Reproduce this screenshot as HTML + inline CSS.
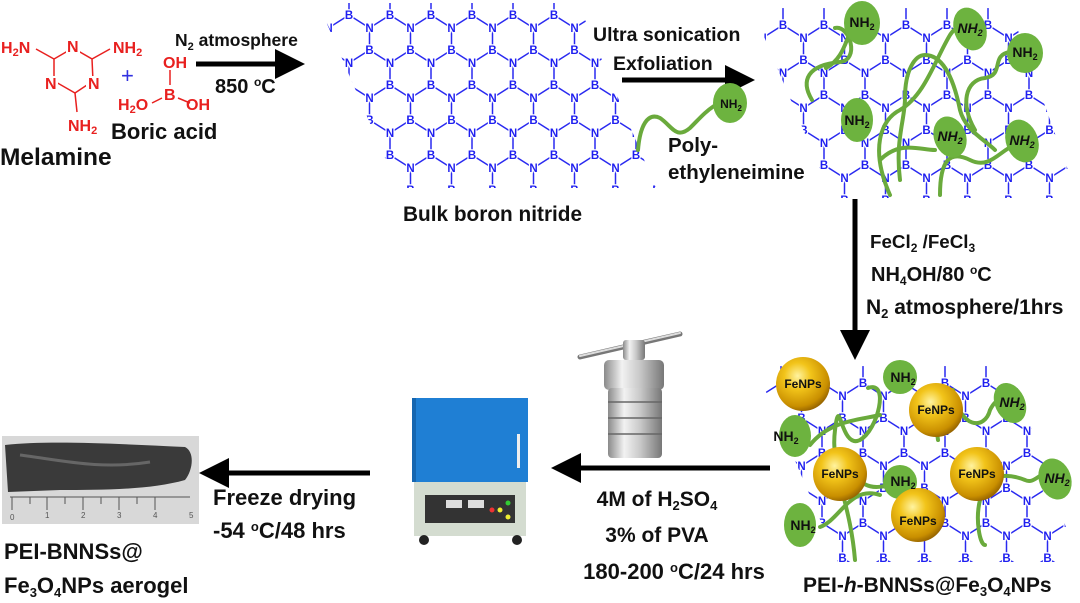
<!DOCTYPE html>
<html><head><meta charset="utf-8"><style>
html,body{margin:0;padding:0;background:#fff;}
svg{display:block;font-family:"Liberation Sans",sans-serif;}
.t{font-weight:bold;fill:#111;}
.lat text{font-weight:bold;font-size:11.5px;fill:#1f1ff0;stroke:#fff;stroke-width:2.5;paint-order:stroke;text-anchor:middle;}
.red{font-weight:bold;fill:#e8201f;}
.nh{font-weight:bold;fill:#111;text-anchor:middle;}
.fe{font-weight:bold;font-size:12px;fill:#111;text-anchor:middle;}
.ch{fill:none;stroke:#6aaa3c;stroke-width:4;stroke-linecap:round;}
</style></head><body>
<svg width="1080" height="603" viewBox="0 0 1080 603" xmlns="http://www.w3.org/2000/svg">
<defs>
 <g id="tile">
  <g stroke="#2a2af0" stroke-width="1.5">
   <line x1="0" y1="0" x2="20.5" y2="13"/><line x1="20.5" y1="13" x2="41" y2="0"/>
   <line x1="20.5" y1="13" x2="20.5" y2="35"/><line x1="20.5" y1="35" x2="41" y2="48"/>
   <line x1="20.5" y1="35" x2="0" y2="48"/><line x1="0" y1="48" x2="0" y2="70"/>
   <line x1="41" y1="48" x2="41" y2="70"/>
  </g>
  <g class="lat">
   <text x="0" y="4">B</text><text x="41" y="4">B</text><text x="0" y="74">B</text><text x="41" y="74">B</text>
   <text x="20.5" y="39">B</text><text x="20.5" y="17">N</text><text x="0" y="52">N</text><text x="41" y="52">N</text>
  </g>
 </g>
 <pattern id="p1" patternUnits="userSpaceOnUse" x="349" y="15" width="41" height="70"><use href="#tile"/></pattern>
 <pattern id="p2" patternUnits="userSpaceOnUse" x="783" y="25" width="41" height="70"><use href="#tile"/></pattern>
 <pattern id="p3" patternUnits="userSpaceOnUse" x="863" y="383" width="41" height="70"><use href="#tile"/></pattern>
 <radialGradient id="gold" cx="0.4" cy="0.35" r="0.7">
  <stop offset="0" stop-color="#fff3a0"/><stop offset="0.35" stop-color="#f2c41a"/><stop offset="0.8" stop-color="#c98f00"/><stop offset="1" stop-color="#8a5a00"/>
 </radialGradient>
 <linearGradient id="steel" x1="0" x2="1">
  <stop offset="0" stop-color="#8a8a8a"/><stop offset="0.3" stop-color="#f2f2f2"/><stop offset="0.6" stop-color="#c8c8c8"/><stop offset="1" stop-color="#777"/>
 </linearGradient>
 <marker id="ah" markerWidth="6" markerHeight="6" refX="3" refY="3" orient="auto" markerUnits="strokeWidth"><path d="M0,0 L6,3 L0,6 z" fill="#000"/></marker>
</defs>

<!-- Melamine -->
<g stroke="#e8201f" stroke-width="1.5" fill="none">
 <polygon points="73,48 92,59 93,81 75,93 54,81 54,59"/>
 <line x1="54" y1="59" x2="36" y2="49"/><line x1="92" y1="59" x2="110" y2="49"/><line x1="75" y1="93" x2="77" y2="112"/>
 <line x1="170" y1="70" x2="170" y2="85"/><line x1="162" y1="98" x2="152" y2="103"/><line x1="178" y1="98" x2="190" y2="103"/>
</g>
<rect x="66" y="40" width="14" height="14" fill="#fff"/><rect x="86" y="76" width="14" height="14" fill="#fff"/><rect x="44" y="76" width="14" height="14" fill="#fff"/>
<g font-size="16">
<text class="red" x="67" y="52">N</text><text class="red" x="88" y="89">N</text><text class="red" x="45" y="89">N</text>
<text class="red" x="1" y="53">H<tspan font-size="11" dy="3">2</tspan><tspan dy="-3">N</tspan></text>
<text class="red" x="113" y="53">NH<tspan font-size="11" dy="3">2</tspan></text>
<text class="red" x="68" y="131">NH<tspan font-size="11" dy="3">2</tspan></text>
<text class="red" x="163" y="68">OH</text>
<text class="red" x="164" y="100">B</text>
<text class="red" x="118" y="110">H<tspan font-size="11" dy="3">2</tspan><tspan dy="-3">O</tspan></text>
<text class="red" x="186" y="110">OH</text>
</g>
<text x="121" y="83" font-size="22" fill="#3030e0">+</text>
<text class="t" x="111" y="139" font-size="22">Boric acid</text>
<text class="t" x="0" y="165" font-size="24.5">Melamine</text>

<!-- arrow 1 -->
<line x1="196" y1="64" x2="290" y2="64" stroke="#000" stroke-width="5" marker-end="url(#ah)"/>
<text class="t" x="175" y="46" font-size="17.5">N<tspan font-size="11" dy="4">2</tspan><tspan dy="-4"> atmosphere</tspan></text>
<text class="t" x="215" y="93" font-size="20">850 <tspan font-size="12" dy="-7">o</tspan><tspan dy="7">C</tspan></text>

<!-- bulk BN -->
<polygon points="318,3 578,3 656,188 398,188" fill="url(#p1)"/>
<text class="t" x="403" y="221" font-size="20.8">Bulk boron nitride</text>

<!-- arrow 2 -->
<line x1="622" y1="80" x2="740" y2="80" stroke="#000" stroke-width="5" marker-end="url(#ah)"/>
<text class="t" x="593" y="41" font-size="19.5">Ultra sonication</text>
<text class="t" x="613" y="70" font-size="19.5">Exfoliation</text>
<path class="ch" d="M638,150 C640,125 648,112 660,118 C672,126 676,140 690,128 C700,118 705,112 714,106"/>
<ellipse cx="730" cy="103" rx="17" ry="20" fill="#6db33f"/>
<text class="nh" x="731" y="108" font-size="12">NH<tspan font-size="8" dy="3">2</tspan></text>
<text class="t" x="668" y="152" font-size="20.5">Poly-</text>
<text class="t" x="668" y="179" font-size="20.5">ethyleneimine</text>

<!-- top right lattice -->
<polygon points="752,8 1010,8 1078,198 832,198" fill="url(#p2)"/>
<g class="ch">
 <path d="M812,100 C800,80 808,65 840,62 C860,60 850,25 835,28 M826,68 C850,55 845,25 860,25"/>
 <path d="M900,180 C895,140 905,120 905,98 C905,70 915,55 925,55 C945,55 955,85 960,110 C965,130 985,140 995,150"/>
 <path d="M890,195 C870,150 880,120 900,110 C925,95 935,60 950,35 C960,20 968,28 970,28"/>
 <path d="M975,130 C960,105 965,80 985,78 C1005,75 990,55 1010,52"/>
 <path d="M880,160 C900,140 920,150 935,150 M940,195 C940,160 950,150 970,160 C990,170 1000,150 1015,145"/>
</g>
<g fill="#6db33f">
 <ellipse cx="862" cy="23" rx="18" ry="22"/><ellipse cx="970" cy="29" rx="16" ry="22" transform="rotate(-20 970 29)"/>
 <ellipse cx="1025" cy="53" rx="18" ry="20"/><ellipse cx="857" cy="120" rx="16" ry="22"/>
 <ellipse cx="950" cy="137" rx="16" ry="21" transform="rotate(-20 950 137)"/><ellipse cx="1022" cy="141" rx="16" ry="22" transform="rotate(-20 1022 141)"/>
</g>
<g font-size="14">
<text class="nh" x="862" y="27">NH<tspan font-size="9" dy="3">2</tspan></text>
<text class="nh" x="970" y="33" font-style="italic">NH<tspan font-size="9" dy="3">2</tspan></text>
<text class="nh" x="1025" y="57">NH<tspan font-size="9" dy="3">2</tspan></text>
<text class="nh" x="857" y="125">NH<tspan font-size="9" dy="3">2</tspan></text>
<text class="nh" x="950" y="141" font-style="italic">NH<tspan font-size="9" dy="3">2</tspan></text>
<text class="nh" x="1022" y="145" font-style="italic">NH<tspan font-size="9" dy="3">2</tspan></text>
</g>

<!-- vertical arrow -->
<line x1="855" y1="199" x2="855" y2="345" stroke="#000" stroke-width="5" marker-end="url(#ah)"/>
<text class="t" x="870" y="248" font-size="18.8">FeCl<tspan font-size="12" dy="4">2</tspan><tspan dy="-4"> /FeCl</tspan><tspan font-size="12" dy="4">3</tspan></text>
<text class="t" x="871" y="281" font-size="20">NH<tspan font-size="12" dy="4">4</tspan><tspan dy="-4">OH/80 </tspan><tspan font-size="12" dy="-7">o</tspan><tspan dy="7">C</tspan></text>
<text class="t" x="866" y="314" font-size="21">N<tspan font-size="13" dy="4">2</tspan><tspan dy="-4"> atmosphere/1hrs</tspan></text>

<!-- bottom right -->
<polygon points="755,366 1010,366 1078,562 838,562" fill="url(#p3)"/>
<g class="ch">
 <path d="M868,388 C890,380 878,430 860,440 C840,450 840,390 835,430 C830,470 850,500 855,560 M810,445 C830,420 860,420 880,415"/>
 <path d="M953,390 C960,430 985,430 990,410 C1000,390 1010,405 1010,403"/>
 <path d="M938,440 C935,420 940,410 935,400 M980,495 C980,480 1000,470 1025,480 C1035,485 1040,470 1050,475 M980,500 C975,520 980,545 985,545"/>
 <path d="M850,470 C870,500 890,480 900,485 M820,527 C840,520 850,485 880,495"/>
</g>
<g fill="#6db33f">
 <ellipse cx="900" cy="377" rx="17" ry="17"/><ellipse cx="795" cy="436" rx="16" ry="21"/>
 <ellipse cx="1010" cy="403" rx="15" ry="21" transform="rotate(-25 1010 403)"/><ellipse cx="900" cy="482" rx="17" ry="17"/>
 <ellipse cx="1055" cy="479" rx="16" ry="21" transform="rotate(-20 1055 479)"/><ellipse cx="800" cy="525" rx="16" ry="22"/>
</g>
<g>
 <circle cx="803" cy="384" r="27" fill="url(#gold)"/><circle cx="936" cy="410" r="27" fill="url(#gold)"/>
 <circle cx="840" cy="474" r="27" fill="url(#gold)"/><circle cx="977" cy="474" r="27" fill="url(#gold)"/>
 <circle cx="918" cy="515" r="27" fill="url(#gold)"/>
</g>
<text class="fe" x="803" y="388">FeNPs</text><text class="fe" x="936" y="414">FeNPs</text>
<text class="fe" x="840" y="478">FeNPs</text><text class="fe" x="977" y="478">FeNPs</text><text class="fe" x="918" y="525">FeNPs</text>
<g font-size="14">
<text class="nh" x="903" y="382">NH<tspan font-size="9" dy="3">2</tspan></text>
<text class="nh" x="786" y="441">NH<tspan font-size="9" dy="3">2</tspan></text>
<text class="nh" x="1012" y="407" font-style="italic">NH<tspan font-size="9" dy="3">2</tspan></text>
<text class="nh" x="903" y="486">NH<tspan font-size="9" dy="3">2</tspan></text>
<text class="nh" x="1057" y="483" font-style="italic">NH<tspan font-size="9" dy="3">2</tspan></text>
<text class="nh" x="803" y="530">NH<tspan font-size="9" dy="3">2</tspan></text>
</g>
<text class="t" x="803" y="592" font-size="21">PEI-<tspan font-style="italic">h</tspan>-BNNSs@Fe<tspan font-size="13" dy="4">3</tspan><tspan dy="-4">O</tspan><tspan font-size="13" dy="4">4</tspan><tspan dy="-4">NPs</tspan></text>

<!-- bottom arrow to furnace -->
<line x1="770" y1="468" x2="566" y2="468" stroke="#000" stroke-width="5" marker-end="url(#ah)"/>
<text class="t" x="657" y="506" font-size="21" text-anchor="middle">4M of H<tspan font-size="13" dy="4">2</tspan><tspan dy="-4">SO</tspan><tspan font-size="13" dy="4">4</tspan></text>
<text class="t" x="657" y="542" font-size="21" text-anchor="middle">3% of PVA</text>
<text class="t" x="674" y="579" font-size="22" text-anchor="middle">180-200 <tspan font-size="13" dy="-7">o</tspan><tspan dy="7">C/24 hrs</tspan></text>

<!-- autoclave -->
<g>
 <line x1="580" y1="357" x2="680" y2="334" stroke="#777" stroke-width="5" stroke-linecap="round"/>
 <line x1="580" y1="356" x2="680" y2="333" stroke="#ddd" stroke-width="2" stroke-linecap="round"/>
 <rect x="623" y="340" width="22" height="20" rx="3" fill="url(#steel)"/>
 <rect x="604" y="360" width="60" height="30" rx="5" fill="url(#steel)"/>
 <rect x="608" y="388" width="54" height="70" rx="4" fill="url(#steel)"/>
 <g stroke="#666" stroke-width="1.5"><line x1="608" y1="402" x2="662" y2="402"/><line x1="608" y1="418" x2="662" y2="418"/><line x1="608" y1="434" x2="662" y2="434"/></g>
</g>

<!-- furnace -->
<g>
 <rect x="412" y="398" width="116" height="84" fill="#1f7fd4"/>
 <rect x="412" y="398" width="4" height="84" fill="#1566b0"/>
 <rect x="517" y="434" width="3" height="34" fill="#eee"/>
 <rect x="414" y="482" width="112" height="54" fill="#d4dcd0"/>
 <rect x="425" y="495" width="90" height="28" fill="#333"/>
 <rect x="446" y="500" width="16" height="8" fill="#ddd"/><rect x="468" y="500" width="16" height="8" fill="#ddd"/>
 <circle cx="492" cy="510" r="2.5" fill="#e33"/><circle cx="500" cy="510" r="2.5" fill="#ee3"/><circle cx="508" cy="503" r="2.5" fill="#3c3"/><circle cx="508" cy="517" r="2.5" fill="#ee3"/>
 <circle cx="424" cy="540" r="5" fill="#222"/><circle cx="517" cy="540" r="5" fill="#222"/>
</g>

<!-- freeze drying arrow -->
<line x1="370" y1="473" x2="214" y2="473" stroke="#000" stroke-width="5" marker-end="url(#ah)"/>
<text class="t" x="213" y="505" font-size="22">Freeze drying</text>
<text class="t" x="213" y="538" font-size="22">-54 <tspan font-size="13" dy="-7">o</tspan><tspan dy="7">C/48 hrs</tspan></text>

<!-- aerogel photo -->
<rect x="2" y="436" width="197" height="88" fill="#d8d8d8"/>
<path d="M5,445 C50,440 120,444 185,447 C195,452 193,470 185,480 C150,490 100,490 60,490 L8,492 Z" fill="#3a3a3a"/>
<path d="M20,455 C60,460 100,470 150,462" stroke="#666" stroke-width="3" fill="none"/>
<g stroke="#555" stroke-width="1"><line x1="10" y1="497" x2="190" y2="497"/>
<line x1="12" y1="497" x2="12" y2="510"/><line x1="47" y1="497" x2="47" y2="510"/><line x1="83" y1="497" x2="83" y2="510"/><line x1="119" y1="497" x2="119" y2="510"/><line x1="155" y1="497" x2="155" y2="510"/>
<line x1="30" y1="497" x2="30" y2="504"/><line x1="65" y1="497" x2="65" y2="504"/><line x1="101" y1="497" x2="101" y2="504"/><line x1="137" y1="497" x2="137" y2="504"/></g>
<text x="10" y="520" font-size="8" fill="#555">0</text><text x="45" y="518" font-size="8" fill="#555">1</text><text x="81" y="518" font-size="8" fill="#555">2</text><text x="117" y="518" font-size="8" fill="#555">3</text><text x="153" y="518" font-size="8" fill="#555">4</text><text x="189" y="518" font-size="8" fill="#555">5</text>
<text class="t" x="4" y="559" font-size="22">PEI-BNNSs@</text>
<text class="t" x="4" y="593" font-size="22">Fe<tspan font-size="13" dy="4">3</tspan><tspan dy="-4">O</tspan><tspan font-size="13" dy="4">4</tspan><tspan dy="-4">NPs aerogel</tspan></text>
</svg>
</body></html>
